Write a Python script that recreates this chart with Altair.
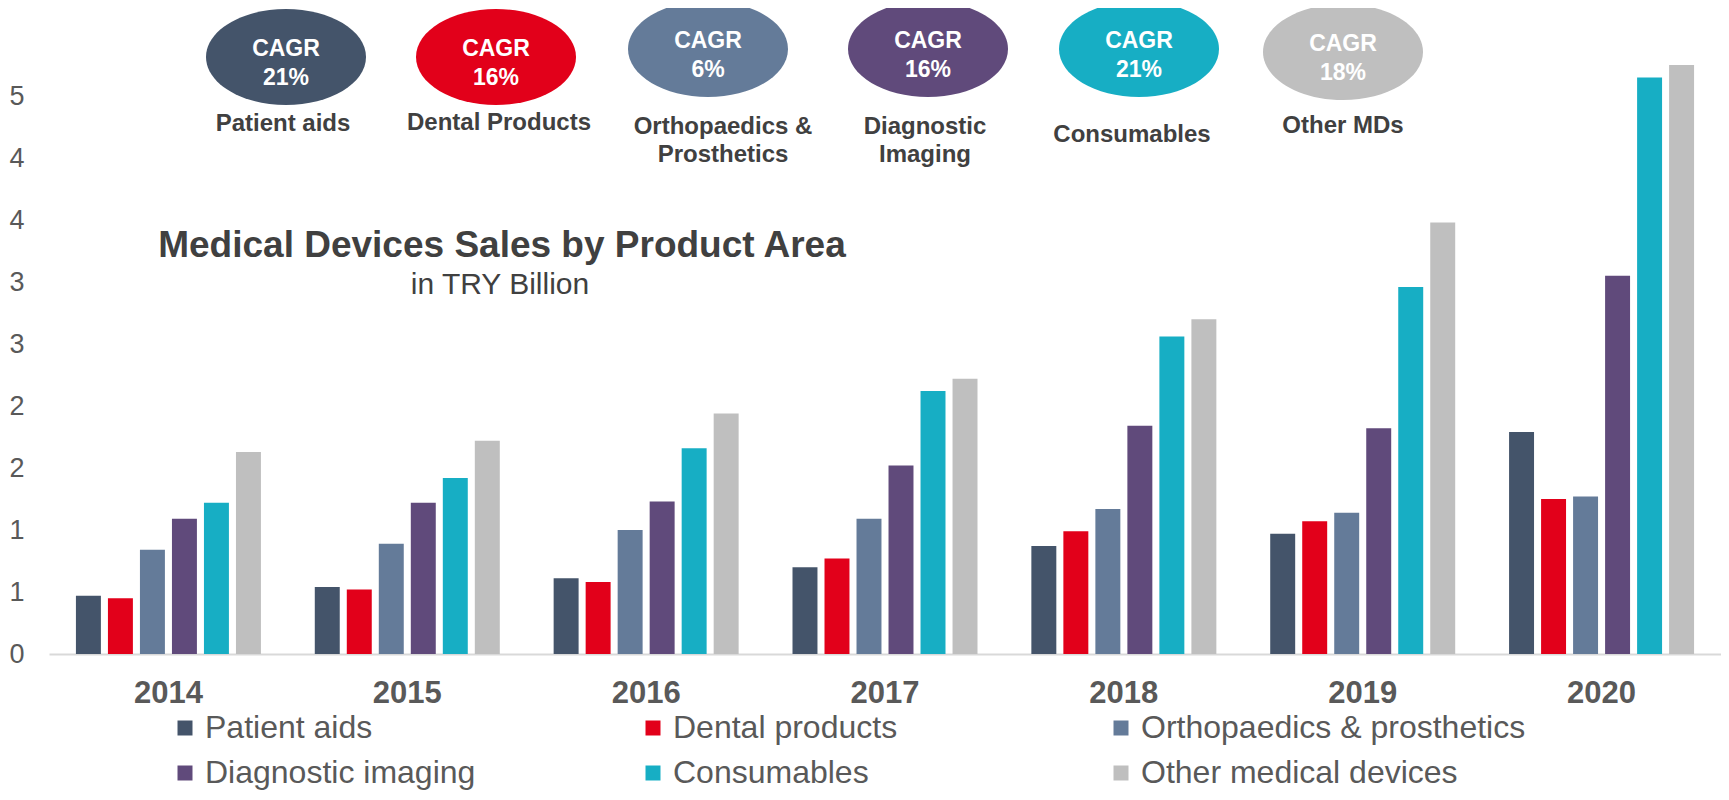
import altair as alt
import pandas as pd

# ---------------- data ----------------
years = ["2014", "2015", "2016", "2017", "2018", "2019", "2020"]
series = ["Patient aids", "Dental products", "Orthopaedics & prosthetics",
          "Diagnostic imaging", "Consumables", "Other medical devices"]
patient_aids = [0.47, 0.54, 0.61, 0.70, 0.87, 0.97, 1.79]
dental_products = [0.45, 0.52, 0.58, 0.77, 0.99, 1.07, 1.25]
orthopaedics = [0.84, 0.89, 1.00, 1.09, 1.17, 1.14, 1.27]
diagnostic_imaging = [1.09, 1.22, 1.23, 1.52, 1.84, 1.82, 3.05]
consumables = [1.22, 1.42, 1.66, 2.12, 2.56, 2.96, 4.65]
other_md = [1.63, 1.72, 1.94, 2.22, 2.70, 3.48, 4.75]
y_ticks = [0, 0.5, 1, 1.5, 2, 2.5, 3, 3.5, 4, 4.5]

cagr_names = ["Patient aids", "Dental Products", "Orthopaedics &\nProsthetics",
              "Diagnostic\nImaging", "Consumables", "Other MDs"]
cagr_rates = ["21%", "16%", "6%", "16%", "21%", "18%"]

title_text = "Medical Devices Sales by Product Area"
subtitle_text = "in TRY Billion"

# ---------------- styles / layout ----------------
colors = ["#44546a", "#e2001a", "#647b99", "#604a7b", "#17aec4", "#bfbfbf"]
FONT = "Liberation Sans"
TXT = "#404040"
AX = "#595959"

# annotation layout (pixels inside plot area)
ell_x = [237, 447, 659, 879, 1090, 1294]
ell_y = [23, 23, 15, 15, 15, 18]
lab_x = [234, 450, 674, 876, 1083, 1294]
lab_y = [90, 89, 93, 93, 101, 92]

values_by_series = [patient_aids, dental_products, orthopaedics,
                    diagnostic_imaging, consumables, other_md]
rows = []
for s, vals in zip(series, values_by_series):
    for yr, v in zip(years, vals):
        rows.append({"year": yr, "series": s, "value": v})
df = pd.DataFrame(rows)

bub = pd.DataFrame({
    "series": series, "name": cagr_names, "rate": cagr_rates,
    "ex": ell_x, "ey": ell_y, "lx": lab_x, "ly": lab_y,
})
ttl = pd.DataFrame({"t": [title_text], "s": [subtitle_text]})

bars = alt.Chart(df).mark_bar(strokeWidth=0).encode(
    x=alt.X("year:N", sort=years, title=None,
            scale=alt.Scale(paddingInner=0.196, paddingOuter=0.098),
            axis=alt.Axis(labelAngle=0, labelFontSize=31, labelFontWeight="bold",
                          labelColor=AX, labelFont=FONT, labelPadding=24,
                          ticks=False, tickSize=0, domainColor="#d9d9d9",
                          domainWidth=2)),
    xOffset=alt.XOffset("series:N", sort=series,
                        scale=alt.Scale(paddingInner=0.22, paddingOuter=0.11)),
    y=alt.Y("value:Q", title=None,
            scale=alt.Scale(domain=[0, 5], nice=False),
            axis=alt.Axis(values=y_ticks,
                          labelExpr="format(round(datum.value), 'd')",
                          labelOverlap=False, grid=False, domain=False,
                          ticks=False, tickSize=0, labelFontSize=27,
                          labelColor=AX, labelFont=FONT, labelPadding=25)),
    color=alt.Color("series:N", sort=series,
                    scale=alt.Scale(domain=series, range=colors),
                    legend=alt.Legend(orient="none", legendX=120, legendY=678,
                                      direction="horizontal", columns=3,
                                      columnPadding=47, rowPadding=13,
                                      symbolType="square", symbolSize=225,
                                      symbolStrokeWidth=0, labelFontSize=32,
                                      labelColor=AX, labelFont=FONT,
                                      labelOffset=4, labelLimit=600,
                                      title=None, padding=0)),
)

ellipse_path = "M-1,0A1,0.6,0,1,1,1,0A1,0.6,0,1,1,-1,0Z"
ellipses = alt.Chart(bub).mark_point(shape=ellipse_path, size=25600, filled=True,
                                     opacity=1, strokeWidth=0).encode(
    x=alt.X("ex:Q", scale=None, axis=None),
    y=alt.Y("ey:Q", scale=None, axis=None),
    fill=alt.Fill("series:N", scale=alt.Scale(domain=series, range=colors),
                  legend=None),
)
cagr_word = alt.Chart(bub).mark_text(text="CAGR", font=FONT, fontSize=23,
                                     fontWeight="bold", color="white",
                                     dy=-8.5).encode(
    x=alt.X("ex:Q", scale=None, axis=None),
    y=alt.Y("ey:Q", scale=None, axis=None),
)
cagr_pct = alt.Chart(bub).mark_text(font=FONT, fontSize=23, fontWeight="bold",
                                    color="white", dy=20.5).encode(
    x=alt.X("ex:Q", scale=None, axis=None),
    y=alt.Y("ey:Q", scale=None, axis=None),
    text="rate:N",
)
cagr_lab = alt.Chart(bub).mark_text(font=FONT, fontSize=24, fontWeight="bold",
                                    color=TXT, lineBreak="\n", lineHeight=28,
                                    baseline="middle").encode(
    x=alt.X("lx:Q", scale=None, axis=None),
    y=alt.Y("ly:Q", scale=None, axis=None),
    text="name:N",
)
title_mark = alt.Chart(ttl).mark_text(font=FONT, fontSize=37, fontWeight="bold",
                                      color=TXT).encode(
    x=alt.value(453), y=alt.value(212), text="t:N")
subtitle_mark = alt.Chart(ttl).mark_text(font=FONT, fontSize=30,
                                         color=TXT).encode(
    x=alt.value(451), y=alt.value(251), text="s:N")

chart = alt.layer(bars, ellipses, cagr_word, cagr_pct, cagr_lab,
                  title_mark, subtitle_mark).resolve_scale(
    x="independent", y="independent"
).properties(
    width=1672, height=620,
    autosize=alt.AutoSizeParams(type="none"),
    padding={"left": 41, "top": 26, "right": 0, "bottom": 136},
).configure_view(stroke=None).configure_legend(gridAlign="all")

chart.save("out.html", embed_options={"renderer": "svg", "actions": False})
